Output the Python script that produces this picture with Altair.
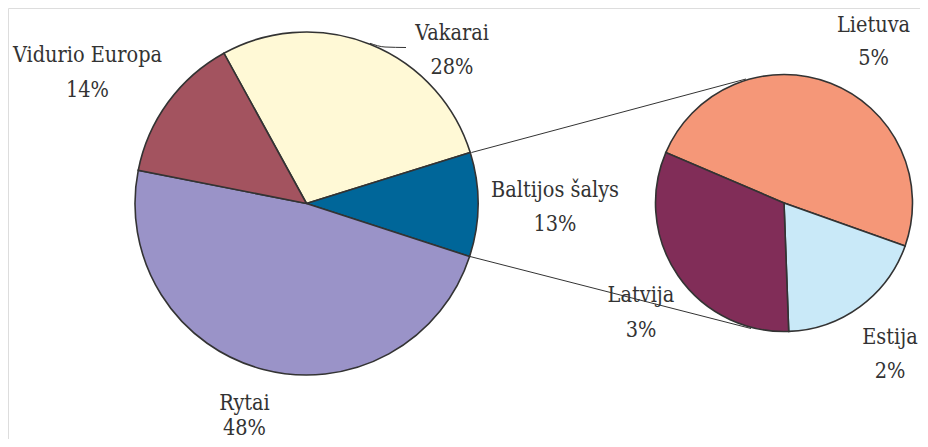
import math
import altair as alt
import pandas as pd

# ---------------- data ----------------
MAIN_LABELS = ["Vakarai", "Baltijos šalys", "Rytai", "Vidurio Europa"]
MAIN_VALUES = [28.2, 9.8, 48.1, 13.9]
MAIN_PCT = ["28%", "13%", "48%", "14%"]

SUB_LABELS = ["Lietuva", "Estija", "Latvija"]
SUB_VALUES = [4.9, 1.9, 3.2]
SUB_PCT = ["5%", "2%", "3%"]

# ---------------- styles / layout ----------------
MAIN_COLORS = ["#FFF9D6", "#006699", "#9A93C8", "#A3535F"]
SUB_COLORS = ["#F59778", "#C9E9F8", "#812D58"]
EDGE = "#333333"
TEXT = "#333333"
FONT = "DejaVu Serif Condensed, DejaVu Serif, serif"
FS = 21.5

W, H = 912, 431
MAIN_CX, MAIN_CY, MAIN_R = 298.5, 195.5, 171.5
SUB_CX, SUB_CY, SUB_R = 776.0, 195.0, 128.5
MAIN_START = math.radians(331.2)
SUB_START = math.radians(293.1)

# label anchor positions (x centre, name baseline, percent baseline)
LABEL_POS = {
    "Vakarai": (444, 32, 65.5),
    "Baltijos šalys": (547, 189, 223),
    "Rytai": (236.5, 401.5, 426.5),
    "Vidurio Europa": (79.5, 54, 88.5),
    "Lietuva": (865.5, 23.5, 57),
    "Estija": (882.0, 336, 369.5),
    "Latvija": (633, 294, 328.5),
}

CONNECTORS = [
    # x, y, x2, y2
    (463.5, 144.5, 738.0, 71.0),
    (462.0, 248.5, 743.0, 320.5),
]
LEADER = [(362.0, 35.3), (377.0, 39.0), (398.0, 39.5)]

# ---------------- build ----------------
main_df = pd.DataFrame({"label": MAIN_LABELS, "value": MAIN_VALUES, "idx": list(range(len(MAIN_LABELS)))})
sub_df = pd.DataFrame({"label": SUB_LABELS, "value": SUB_VALUES, "idx": list(range(len(SUB_LABELS)))})

main_pie = alt.Chart(main_df).mark_arc(
    outerRadius=MAIN_R, stroke=EDGE, strokeWidth=1.6
).encode(
    theta=alt.Theta("value:Q", stack=True,
                    scale=alt.Scale(range=[MAIN_START, MAIN_START + 2 * math.pi])),
    color=alt.Color("label:N", scale=alt.Scale(domain=MAIN_LABELS, range=MAIN_COLORS), legend=None),
    order=alt.Order("idx:Q"),
    x=alt.value(MAIN_CX),
    y=alt.value(MAIN_CY),
)

sub_pie = alt.Chart(sub_df).mark_arc(
    outerRadius=SUB_R, stroke=EDGE, strokeWidth=1.6
).encode(
    theta=alt.Theta("value:Q", stack=True,
                    scale=alt.Scale(range=[SUB_START, SUB_START + 2 * math.pi])),
    color=alt.Color("label:N", scale=alt.Scale(domain=SUB_LABELS, range=SUB_COLORS), legend=None),
    order=alt.Order("idx:Q"),
    x=alt.value(SUB_CX),
    y=alt.value(SUB_CY),
)

conn_df = pd.DataFrame(CONNECTORS, columns=["x", "y", "x2", "y2"])
connectors = alt.Chart(conn_df).mark_rule(color=EDGE, strokeWidth=1).encode(
    x=alt.X("x:Q", scale=None), y=alt.Y("y:Q", scale=None),
    x2="x2:Q", y2="y2:Q",
)

lead_df = pd.DataFrame(LEADER, columns=["x", "y"])
lead_df["o"] = range(len(lead_df))
leader = alt.Chart(lead_df).mark_line(color=EDGE, strokeWidth=1, interpolate="monotone").encode(
    x=alt.X("x:Q", scale=None), y=alt.Y("y:Q", scale=None), order="o:Q",
)

names = MAIN_LABELS + SUB_LABELS
pcts = MAIN_PCT + SUB_PCT
lab_df = pd.DataFrame({
    "name": names,
    "pct": pcts,
    "x": [LABEL_POS[n][0] for n in names],
    "yn": [LABEL_POS[n][1] for n in names],
    "yp": [LABEL_POS[n][2] for n in names],
})

name_text = alt.Chart(lab_df).mark_text(
    font=FONT, fontSize=FS, color=TEXT, align="center", baseline="alphabetic"
).encode(x=alt.X("x:Q", scale=None), y=alt.Y("yn:Q", scale=None), text="name:N")

pct_text = alt.Chart(lab_df).mark_text(
    font=FONT, fontSize=FS, color=TEXT, align="center", baseline="alphabetic"
).encode(x=alt.X("x:Q", scale=None), y=alt.Y("yp:Q", scale=None), text="pct:N")

chart = alt.layer(
    connectors, leader, main_pie, sub_pie, name_text, pct_text
).resolve_scale(
    theta="independent", color="independent"
).properties(
    width=W, height=H, padding=0, autosize=alt.AutoSizeParams(type="none")
).configure_view(stroke=None).configure(background="white")

chart.save("out.html", embed_options={"renderer": "svg", "actions": False})
